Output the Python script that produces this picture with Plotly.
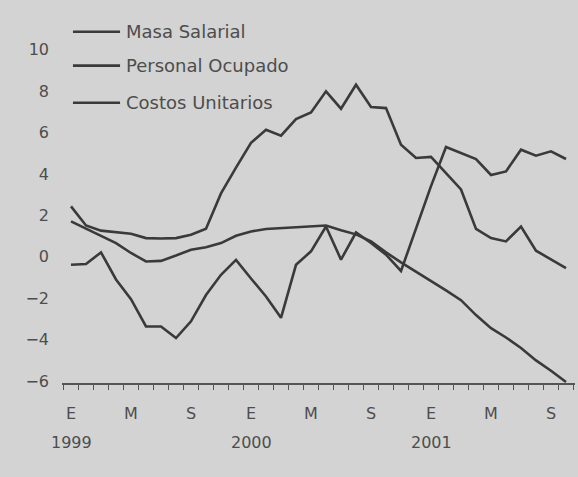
import plotly.graph_objects as go

# months since Jan 1999 (E = enero, M = mayo, S = septiembre)
months = list(range(34))
masa_salarial = [2.43, 1.51, 1.26, 1.19, 1.11, 0.9, 0.88, 0.9, 1.06, 1.35,
                 3.06, 4.3, 5.5, 6.13, 5.85, 6.65, 6.97, 7.99, 7.15, 8.31,
                 7.23, 7.18, 5.41, 4.77, 4.82, 4.04, 3.25, 1.34, 0.9, 0.74,
                 1.46, 0.29, -0.11, -0.55]
personal_ocupado = [1.71, 1.34, 1.01, 0.66, 0.18, -0.23, -0.2, 0.06, 0.34, 0.46,
                    0.66, 1.01, 1.22, 1.34, 1.39, 1.42, 1.46, 1.51, 1.28, 1.08,
                    0.74, 0.21, -0.27, -0.71, -1.19, -1.63, -2.1, -2.82, -3.45, -3.9,
                    -4.41, -5.01, -5.51, -6.05]
costos_unitarios = [-0.39, -0.35, 0.21, -1.1, -2.05, -3.37, -3.37, -3.93, -3.12, -1.85,
                    -0.87, -0.15, -1.05, -1.92, -2.95, -0.39, 0.26, 1.46, -0.14, 1.17,
                    0.66, 0.1, -0.69, 1.35, 3.41, 5.3, 5.01, 4.72, 3.95, 4.12,
                    5.17, 4.88, 5.09, 4.72]
month_letters = ['E', '', '', '', 'M', '', '', '', 'S', '', '', '']
tick_text = [month_letters[m % 12] for m in months]
years = ['1999', '2000', '2001']
y_ticks = [10, 8, 6, 4, 2, 0, -2, -4, -6]
series_names = ['Masa Salarial', 'Personal Ocupado', 'Costos Unitarios']

bg = '#d3d3d3'
ink = '#3a3a3a'
txt = '#4d4d4d'
font = 'DejaVu Sans, Verdana, sans-serif'

fig = go.Figure()
for name, vals in zip(series_names, [masa_salarial, personal_ocupado, costos_unitarios]):
    fig.add_trace(go.Scatter(x=months, y=vals, name=name, mode='lines',
                             line=dict(color=ink, width=2.6), showlegend=False))

# hand-made legend, like the printed one
legend_y = [10.87, 9.23, 7.44]
for name, ly in zip(series_names, legend_y):
    fig.add_shape(type='line', x0=0.13, x1=3.27, y0=ly, y1=ly,
                  line=dict(color=ink, width=2.6))
    fig.add_annotation(x=3.55, y=ly, text=name, showarrow=False, xanchor='left',
                       font=dict(family=font, size=18, color=txt))

for i, yr in enumerate(years):
    fig.add_annotation(x=12 * i, y=-6.1, text=yr, showarrow=False, yanchor='top',
                       yshift=-48, font=dict(family=font, size=16, color=txt))

fig.update_layout(
    width=578, height=477,
    margin=dict(l=62, r=3, t=29, b=94),
    paper_bgcolor=bg, plot_bgcolor=bg,
    font=dict(family=font, size=16, color=txt),
    xaxis=dict(range=[-0.6, 33.6], tickvals=months, ticktext=tick_text,
               ticks='', showline=True, linecolor='#555', linewidth=1.5,
               minor=dict(ticks='outside', tick0=-0.5, dtick=1, ticklen=5,
                          tickcolor='#555', tickwidth=1.2, showgrid=False),
               showgrid=False, zeroline=False, ticklabelstandoff=15),
    yaxis=dict(range=[-6.1, 11], tickvals=y_ticks, showgrid=False,
               zeroline=False, showline=False, ticks='', ticklabelstandoff=12),
)

fig.write_html("out.html", config={'displayModeBar': False},
               post_script="document.body.style.margin='0';")
